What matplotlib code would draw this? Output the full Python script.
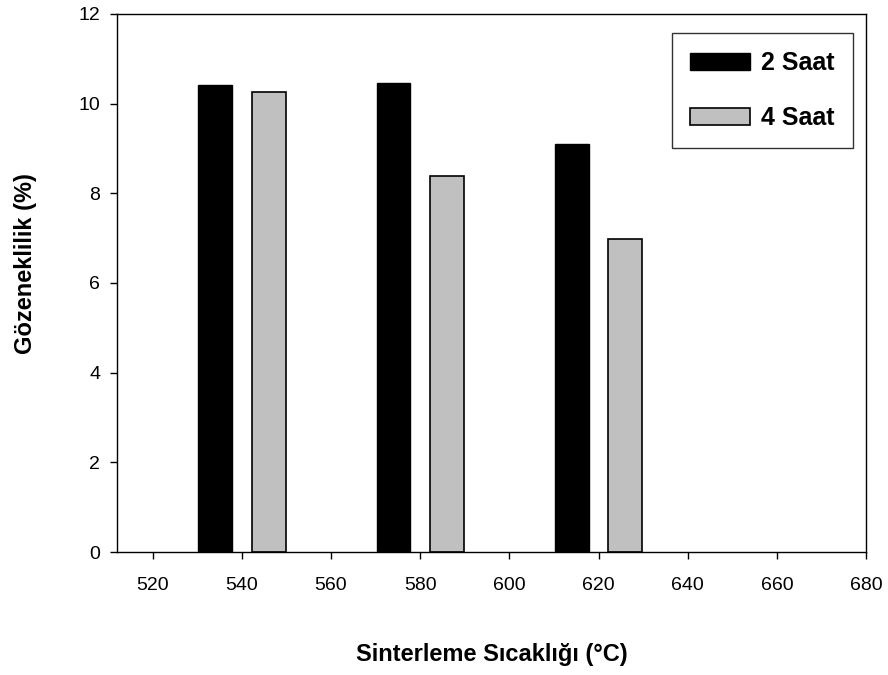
import matplotlib
matplotlib.use("Agg")
import matplotlib.pyplot as plt
import numpy as np

plt.rcParams['font.family'] = ['Liberation Sans', 'DejaVu Sans']

temperatures = [540, 580, 620]
porosity_2h = [10.42, 10.46, 9.10]
porosity_4h = [10.26, 8.39, 6.98]
series_labels = ["2 Saat", "4 Saat"]
x_ticks = [520, 540, 560, 580, 600, 620, 640, 660, 680]
y_ticks = [0, 2, 4, 6, 8, 10, 12]

fig = plt.figure(figsize=(8.88, 6.75), dpi=100)
ax = fig.add_axes([0.1318, 0.1822, 0.8435, 0.7971])

x = np.array(temperatures, dtype=float)
offset = 6.0
width = 7.6
ax.bar(x - offset, porosity_2h, width=width, color="black", edgecolor="black",
       linewidth=1.0, label=series_labels[0])
ax.bar(x + offset, porosity_4h, width=width, color="#c0c0c0", edgecolor="black",
       linewidth=1.2, label=series_labels[1])

ax.set_xlim(512, 680)
ax.set_ylim(0, 12)
ax.set_xticks(x_ticks)
ax.set_yticks(y_ticks)
ax.tick_params(direction="out", length=5, width=1.0, labelsize=14)
ax.tick_params(axis="x", pad=13)
ax.tick_params(axis="y", pad=7)
for s in ax.spines.values():
    s.set_linewidth(1.0)

ax.set_xlabel("Sinterleme Sıcaklığı (°C)", fontsize=17, fontweight="bold")
ax.set_ylabel("Gözeneklilik (%)", fontsize=17, fontweight="bold")
ax.xaxis.label.set_va("center")
ax.xaxis.set_label_coords(0.5, -0.1914)
ax.yaxis.label.set_va("center")
ax.yaxis.set_label_coords(-0.1228, 0.536)

leg = ax.legend(loc="upper right", bbox_to_anchor=(0.982, 0.964), fancybox=False,
                frameon=True, edgecolor="black", handlelength=2.4, handleheight=0.65,
                labelspacing=1.23, borderpad=0.72, handletextpad=0.45, borderaxespad=0,
                prop={"size": 18, "weight": "bold"})
leg.get_frame().set_linewidth(1.0)

fig.savefig("out.png", dpi=100)
